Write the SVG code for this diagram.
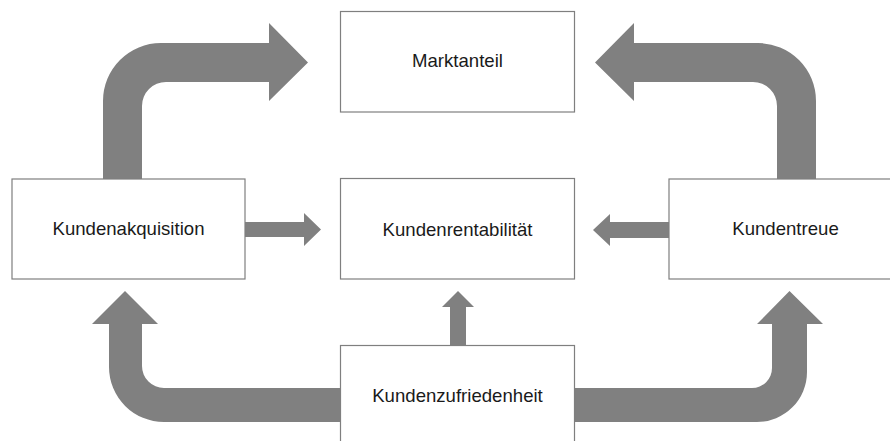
<svg xmlns="http://www.w3.org/2000/svg" width="890" height="441" viewBox="0 0 890 441">
  <style>
    .box { fill: #ffffff; stroke: #7f7f7f; stroke-width: 1.2; }
    .lbl { font-family: "Liberation Sans", Arial, sans-serif; font-size: 18.6px; fill: #1a1a1a; text-anchor: middle; }
    .arrow { fill: #808080; stroke: none; }
  </style>
  <rect width="890" height="441" fill="#ffffff"/>

  <g id="connectors">
    <!-- Kundenakquisition -> Marktanteil (bent arrow) -->
    <path class="arrow" d="M103,179 L103,101 A58,58 0 0 1 161,43 L269,43 L269,23 L308,62.5 L269,101 L269,82 L166,82 A24,24 0 0 0 142,106 L142,179 Z"/>
    <!-- Kundentreue -> Marktanteil (bent arrow) -->
    <path class="arrow" d="M816,179 L816,101 A58,58 0 0 0 758,43 L634,43 L634,23 L595,62.5 L634,101 L634,82 L753,82 A24,24 0 0 1 777,106 L777,179 Z"/>
    <!-- Kundenzufriedenheit -> Kundenakquisition -->
    <path class="arrow" d="M341,388 L164,388 A22,22 0 0 1 142,366 L142,324 L158,324 L125,291 L92,324 L109,324 L109,367 A55,55 0 0 0 164,422 L341,422 Z"/>
    <!-- Kundenzufriedenheit -> Kundentreue -->
    <path class="arrow" d="M574,388 L752,388 A20,20 0 0 0 772,368 L772,324 L757,324 L789.5,291 L823,324 L807,324 L807,372 A50,50 0 0 1 757,422 L574,422 Z"/>
    <!-- straight arrows into Kundenrentabilität -->
    <path class="arrow" d="M245,222 L304,222 L304,213 L321,229.5 L304,246 L304,237 L245,237 Z"/>
    <path class="arrow" d="M669,222 L610,222 L610,214 L593,230 L610,246 L610,238 L669,238 Z"/>
    <path class="arrow" d="M450,346 L450,307 L442,307 L458,291 L474,307 L466,307 L466,346 Z"/>
  </g>

  <g id="marktanteil">
    <rect class="box" x="340.5" y="11.5" width="234" height="100.5"/>
    <text class="lbl" x="457.5" y="67">Marktanteil</text>
  </g>
  <g id="kundenakquisition">
    <rect class="box" x="12" y="179" width="233" height="100"/>
    <text class="lbl" x="128.5" y="235">Kundenakquisition</text>
  </g>
  <g id="kundenrentabilitaet">
    <rect class="box" x="340.5" y="178.5" width="234" height="100.5"/>
    <text class="lbl" x="457.5" y="235.5">Kundenrentabilität</text>
  </g>
  <g id="kundentreue">
    <rect class="box" x="669" y="179" width="240" height="100"/>
    <text class="lbl" x="785.5" y="235">Kundentreue</text>
  </g>
  <g id="kundenzufriedenheit">
    <rect class="box" x="340.5" y="345.5" width="234" height="110"/>
    <text class="lbl" x="457.5" y="402">Kundenzufriedenheit</text>
  </g>
</svg>
